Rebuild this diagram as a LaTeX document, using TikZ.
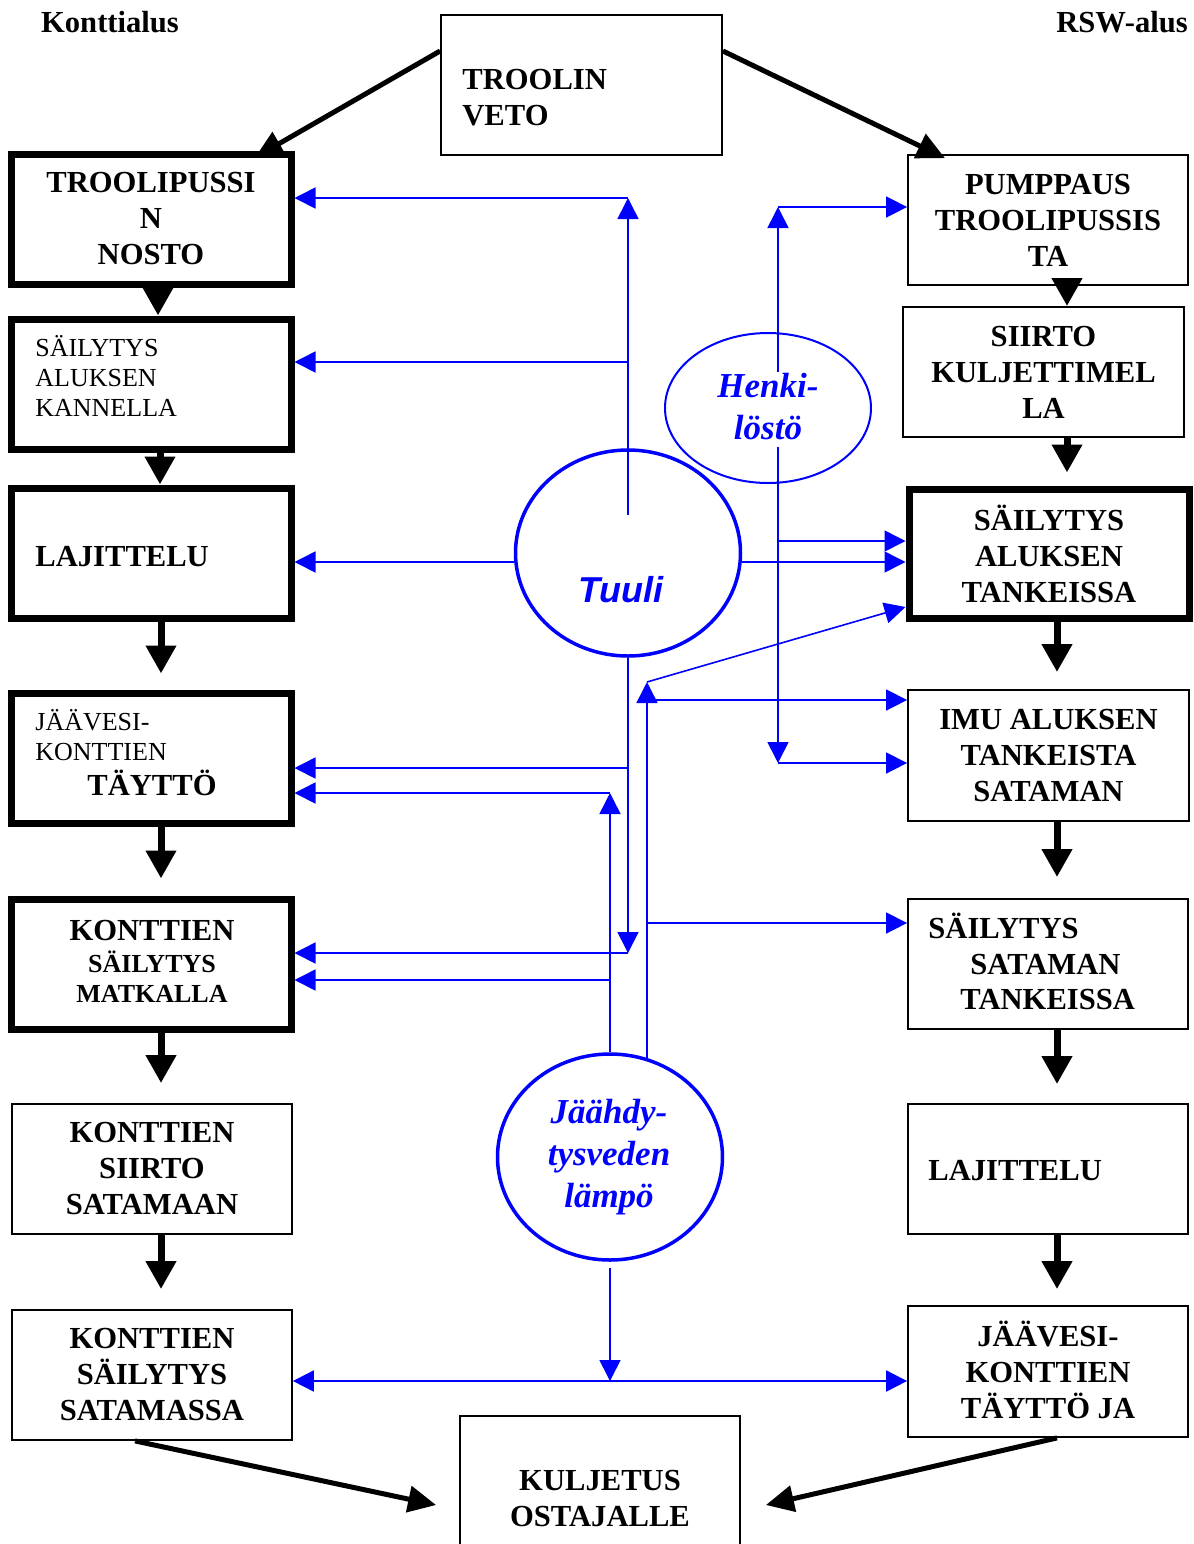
\documentclass[tikz,border=0pt]{standalone}
\usepackage{fontspec}
\setmainfont{Liberation Serif}
\newfontfamily\sansf{Liberation Sans}
\usetikzlibrary{arrows.meta,shapes.geometric,calc}
\begin{document}
\begin{tikzpicture}[x=0.5pt,y=-0.5pt,
 box/.style={draw,line width=0.9pt,minimum width=140pt,minimum height=65pt,inner sep=0pt,align=center},
 tbox/.style={box,line width=3.5pt},
 big/.style={font=\bfseries\fontsize{15.3}{18}\selectfont},
 sm/.style={font=\fontsize{13}{15}\selectfont},
 smb/.style={font=\bfseries\fontsize{13}{15}\selectfont},
 lbl/.style={inner sep=0pt},
 flow/.style={line width=3.5pt,-{Triangle[length=14pt,width=14.5pt]}},
 dflow/.style={line width=2.5pt,-{Triangle[length=14pt,width=13pt]}},
 bl/.style={blue,line width=0.8pt},
 bla/.style={bl,-{Triangle[length=10.5pt,width=10.5pt]}},
 ell/.style={draw=blue,ellipse,inner sep=0pt},
 bt/.style={text=blue,font=\bfseries\itshape\fontsize{17.5}{21}\selectfont,align=center,inner sep=0pt},
]
\useasboundingbox (0,0) rectangle (1194,1544);
\clip (0,0) rectangle (1194,1544);

% titles
\node[big,lbl,anchor=base] (k1) at (110,32) {Konttialus};
\node[big,lbl,anchor=base] (k2) at (1122,32) {RSW-alus};

% top and bottom boxes
\node[box,minimum width=140.5pt,minimum height=70pt] (TV) at (581.5,85) {};
\node[big,lbl,align=left,anchor=west] (TVt) at (462,98) {TROOLIN\\VETO};
\node[box,minimum height=75pt] (K) at (600,1491) {};
\node[big,lbl,align=center] (Kt) at (600,1498) {KULJETUS\\OSTAJALLE};

% left column
\node[tbox,big] (L1) at (151,219) {TROOLIPUSSI\\N\\NOSTO};
\node[tbox] (L2) at (151,384) {};
\node[sm,lbl,align=left,anchor=west] (L2t) at (35,376) {SÄILYTYS\\ALUKSEN\\KANNELLA};
\node[tbox] (L3) at (151,553) {};
\node[big,lbl,anchor=base west] (L3t) at (35,566) {LAJITTELU};
\node[tbox] (L4) at (151,758) {};
\node[sm,lbl,align=left,anchor=west] (L4t) at (35,735) {JÄÄVESI-\\KONTTIEN};
\node[big,lbl,anchor=base] (L4u) at (152,795) {TÄYTTÖ};
\node[tbox] (L5) at (151,964) {};
\node[big,lbl,anchor=base] (L5a) at (152,940) {KONTTIEN};
\node[smb,lbl,anchor=base] (L5b) at (152,972) {SÄILYTYS};
\node[smb,lbl,anchor=base] (L5c) at (152,1002) {MATKALLA};
\node[box,big] (L6) at (152,1169) {KONTTIEN\\SIIRTO\\SATAMAAN};
\node[box,big] (L7) at (152,1375) {KONTTIEN\\SÄILYTYS\\SATAMASSA};

% right column
\node[box,big] (R1) at (1048,220) {PUMPPAUS\\TROOLIPUSSIS\\TA};
\node[box,big,minimum width=140.5pt] (R2) at (1043.5,372) {SIIRTO\\KULJETTIMEL\\LA};
\node[tbox,big,minimum height=64.5pt] (R3) at (1049,553.5) {SÄILYTYS\\ALUKSEN\\TANKEISSA};
\node[box,big,minimum width=140.5pt,minimum height=65.5pt] (R4) at (1048.5,755.5) {IMU ALUKSEN\\TANKEISTA\\SATAMAN};
\node[box] (R5) at (1048,964) {};
\node[big,lbl,anchor=base west] (R5a) at (928,938) {SÄILYTYS};
\node[big,lbl,anchor=base west] (R5b) at (970,974) {SATAMAN};
\node[big,lbl,anchor=base west] (R5c) at (960,1009) {TANKEISSA};
\node[box] (R6) at (1048,1169) {};
\node[big,lbl,anchor=base west] (R6t) at (928,1180) {LAJITTELU};
\node[box,minimum height=65.5pt] (R7) at (1048,1371.5) {};
\node[big,lbl,align=center] (R7t) at (1048,1370) {JÄÄVESI-\\KONTTIEN\\TÄYTTÖ JA};

% ellipses
\node[ell,line width=1.75pt,minimum width=112.5pt,minimum height=103pt] (tuuli) at (628,553) {};
\node[text=blue,font=\sansf\bfseries\itshape\fontsize{18}{21}\selectfont,inner sep=0pt,anchor=base] (tuulit) at (621,602) {Tuuli};
\node[ell,line width=1pt,minimum width=103pt,minimum height=75pt] (henk) at (768,408) {};
\node[bt] (henkt) at (768,407) {Henki-\\löstö};
\node[ell,line width=1.75pt,minimum width=112.5pt,minimum height=103pt] (jaa) at (610,1157) {};
\node[bt] (jaat) at (609,1157) {Jäähdy-\\tysveden\\lämpö};

% black flow arrows
\draw[dflow] ([yshift=17pt]TV.west) -- ([xshift=52pt,yshift=-3.5pt]L1.north);
\draw[dflow] ([yshift=17pt]TV.east) -- ([xshift=-51.5pt,yshift=-2pt]R1.north);
\draw[flow] ([xshift=3.5pt]L1.south) -- ([xshift=3.5pt]L2.north);
\draw[flow] ([xshift=4.5pt]L2.south) -- ([xshift=4.5pt]L3.north);
\draw[flow] ([xshift=5pt]L3.south) -- ([xshift=5pt,yshift=8pt]L4.north);
\draw[flow] ([xshift=5pt]L4.south) -- ([xshift=5pt,yshift=8.5pt]L5.north);
\draw[flow] ([xshift=5pt]L5.south) -- ([xshift=4.5pt,yshift=10pt]L6.north);
\draw[flow] ([xshift=4.5pt]L6.south) -- ([xshift=4.5pt,yshift=10pt]L7.north);
\draw[dflow] ([xshift=-8.5pt]L7.south) -- ([xshift=-11.5pt,yshift=-7pt]K.west);
\draw[flow] ([xshift=9.5pt]R1.south) -- ([xshift=11.75pt]R2.north);
\draw[flow] ([xshift=11.75pt]R2.south) -- ([xshift=9pt,yshift=6.5pt]R3.north);
\draw[flow] ([xshift=4pt]R3.south) -- ([xshift=4.25pt,yshift=8.5pt]R4.north);
\draw[flow] ([xshift=4.25pt]R4.south) -- ([xshift=4.5pt,yshift=10.5pt]R5.north);
\draw[flow] ([xshift=4.5pt]R5.south) -- ([xshift=4.5pt,yshift=9.5pt]R6.north);
\draw[flow] ([xshift=4.5pt]R6.south) -- ([xshift=4.5pt,yshift=8pt]R7.north);
\draw[dflow] ([xshift=4.5pt]R7.south) -- ([xshift=12.5pt,yshift=-7pt]K.east);

% blue: Tuuli
\coordinate (cA) at (628,198);
\coordinate (cB) at (628,362);
\draw[bla] ([yshift=19pt]tuuli.center) -- (cA);
\draw[bla] (cA) -- (cA -| L1.east);
\draw[bla] (cB) -- (cB -| L2.east);
\coordinate (tw) at ([yshift=-4.5pt]tuuli.west);
\coordinate (te) at ([yshift=-4.5pt]tuuli.east);
\draw[bla] (tw) -- (tw -| L3.east);
\draw[bla] (te) -- (te -| R3.west);
\coordinate (cC) at (628,953);
\coordinate (cD) at (628,768);
\draw[bla] (tuuli.south) -- (cC);
\draw[bla] (cC) -- (cC -| L5.east);
\draw[bla] (cD) -- (cD -| L4.east);

% blue: Jäähdytysveden lämpö
\coordinate (cE) at (610,793);
\coordinate (cF) at (610,980);
\draw[bla] (jaa.north) -- (cE);
\draw[bla] (cE) -- (cE -| L4.east);
\draw[bla] (cF) -- (cF -| L5.east);
\coordinate (cG0) at (647,1058);
\coordinate (cG) at (647,682);
\coordinate (cH) at (647,700);
\coordinate (cI) at (647,923);
\draw[bla] (cG0) -- (cG);
\draw[bla] (cG) -- ([yshift=-26.75pt]R3.west);
\draw[bla] (cH) -- (cH -| R4.west);
\draw[bla] (cI) -- (cI -| R5.west);
\coordinate (jB) at (610,1268);
\coordinate (jC) at (610,1381);
\draw[bla] (jB) -- (jC);
\draw[bl,line width=1pt,{Triangle[length=10.5pt,width=10.5pt]}-{Triangle[length=10.5pt,width=10.5pt]}] (jC -| L7.east) -- (jC -| R7.west);

% blue: Henkilöstö
\coordinate (hA) at (778,372);
\coordinate (hT) at (778,207);
\coordinate (hB) at (778,447);
\coordinate (hC) at (778,541);
\coordinate (hD) at (778,763);
\draw[bla] (hA) -- (hT);
\draw[bla] (hT) -- (hT -| R1.west);
\draw[bla] (hB) -- (hD);
\draw[bla] (hD) -- (hD -| R4.west);
\draw[bla] (hC) -- (hC -| R3.west);
\end{tikzpicture}
\end{document}
